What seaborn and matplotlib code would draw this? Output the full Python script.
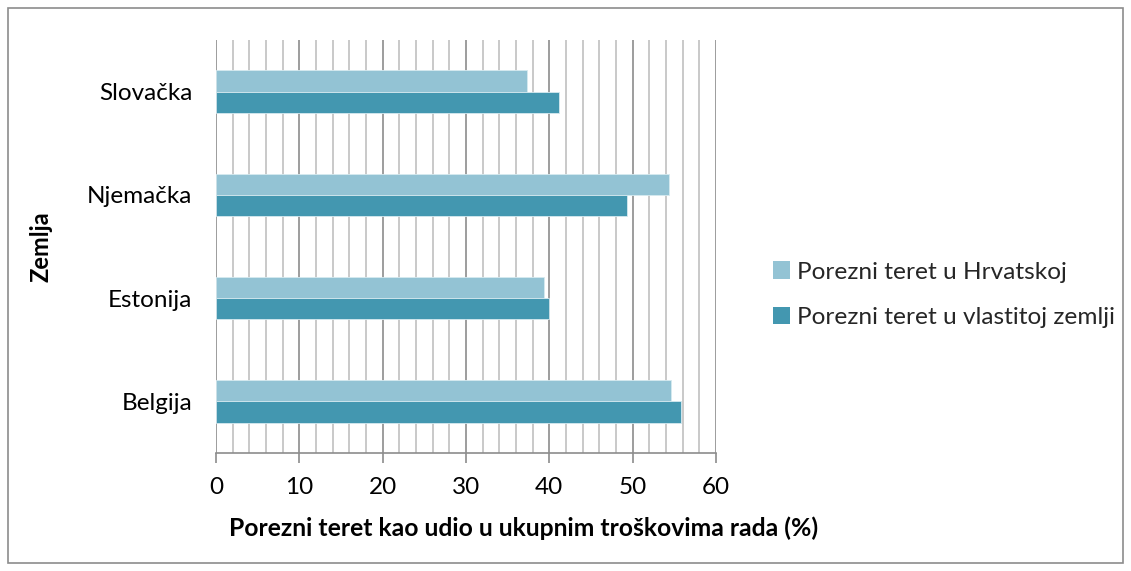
import matplotlib
matplotlib.use("Agg")
import matplotlib.pyplot as plt
import seaborn as sns
import pandas as pd
from matplotlib.patches import Rectangle
from matplotlib.ticker import MultipleLocator

countries = ["Slovačka", "Njemačka", "Estonija", "Belgija"]
series_names = ["Porezni teret u Hrvatskoj", "Porezni teret u vlastitoj zemlji"]
hrvatska = [37.35, 54.3, 39.3, 54.65]
vlastita = [41.1, 49.3, 40.0, 55.8]
x_ticks = [0, 10, 20, 30, 40, 50, 60]

df = pd.DataFrame({
    "Zemlja": countries * 2,
    "Vrijednost": hrvatska + vlastita,
    "Serija": [series_names[0]] * len(countries) + [series_names[1]] * len(countries),
})

sns.set_theme(style="white")
plt.rcParams["font.family"] = ["Lato", "DejaVu Sans"]

fig = plt.figure(figsize=(11.31, 5.71), dpi=100)
ax = fig.add_axes([216 / 1131, 1 - 453 / 571, 500 / 1131, 413 / 571])

palette = {series_names[0]: "#93C3D4", series_names[1]: "#4397B0"}
sns.barplot(data=df, y="Zemlja", x="Vrijednost", hue="Serija", order=countries,
            hue_order=series_names, palette=palette, orient="h", width=0.41,
            ax=ax, saturation=1, edgecolor="#d6eaf0", linewidth=0.6, zorder=3)

ax.set_xlim(0, 60)
ax.set_ylim(3.5, -0.5)
ax.set_xticks(x_ticks)
ax.set_xticklabels([str(t) for t in x_ticks])
ax.xaxis.set_minor_locator(MultipleLocator(2))
ax.grid(axis="x", which="minor", color="#c0c0c0", linewidth=1.2, zorder=0)
ax.grid(axis="x", which="major", color="#8c8c8c", linewidth=1.2, zorder=0)
ax.grid(axis="y", visible=False)

for s in ["top", "right"]:
    ax.spines[s].set_visible(False)
ax.spines["left"].set_visible(False)
ax.spines["bottom"].set_color("#8c8c8c")
ax.spines["bottom"].set_linewidth(1.2)

ax.tick_params(axis="x", which="major", bottom=True, length=7, width=1.2, color="#8c8c8c",
               labelsize=17.5, pad=10, labelcolor="black")
ax.tick_params(axis="x", which="minor", bottom=False)
ax.tick_params(axis="y", left=False, labelsize=17.5, pad=11, labelcolor="black")

ax.set_xlabel("Porezni teret kao udio u ukupnim troškovima rada (%)", fontsize=17.8,
              fontweight="bold", color="black", va="center", ha="center")
ax.xaxis.set_label_coords(0.616, -0.182)
ax.set_ylabel("Zemlja", fontsize=17, fontweight="bold", color="black", va="center")
ax.yaxis.set_label_coords(-0.35, 0.5)

leg = ax.legend(loc="center left", bbox_to_anchor=(1.07, 0.383), frameon=False,
                fontsize=17.6, handlelength=0.7, handleheight=0.7,
                handletextpad=0.3, labelspacing=1.0)
for h in leg.legend_handles:
    h.set_edgecolor("none")

fig.patches.append(Rectangle((8 / 1131, 8 / 571), 1 - 16 / 1131, 1 - 16 / 571,
                             transform=fig.transFigure, fill=False,
                             edgecolor="#8c8c8c", linewidth=1.2))

fig.savefig("out.png", dpi=100)
